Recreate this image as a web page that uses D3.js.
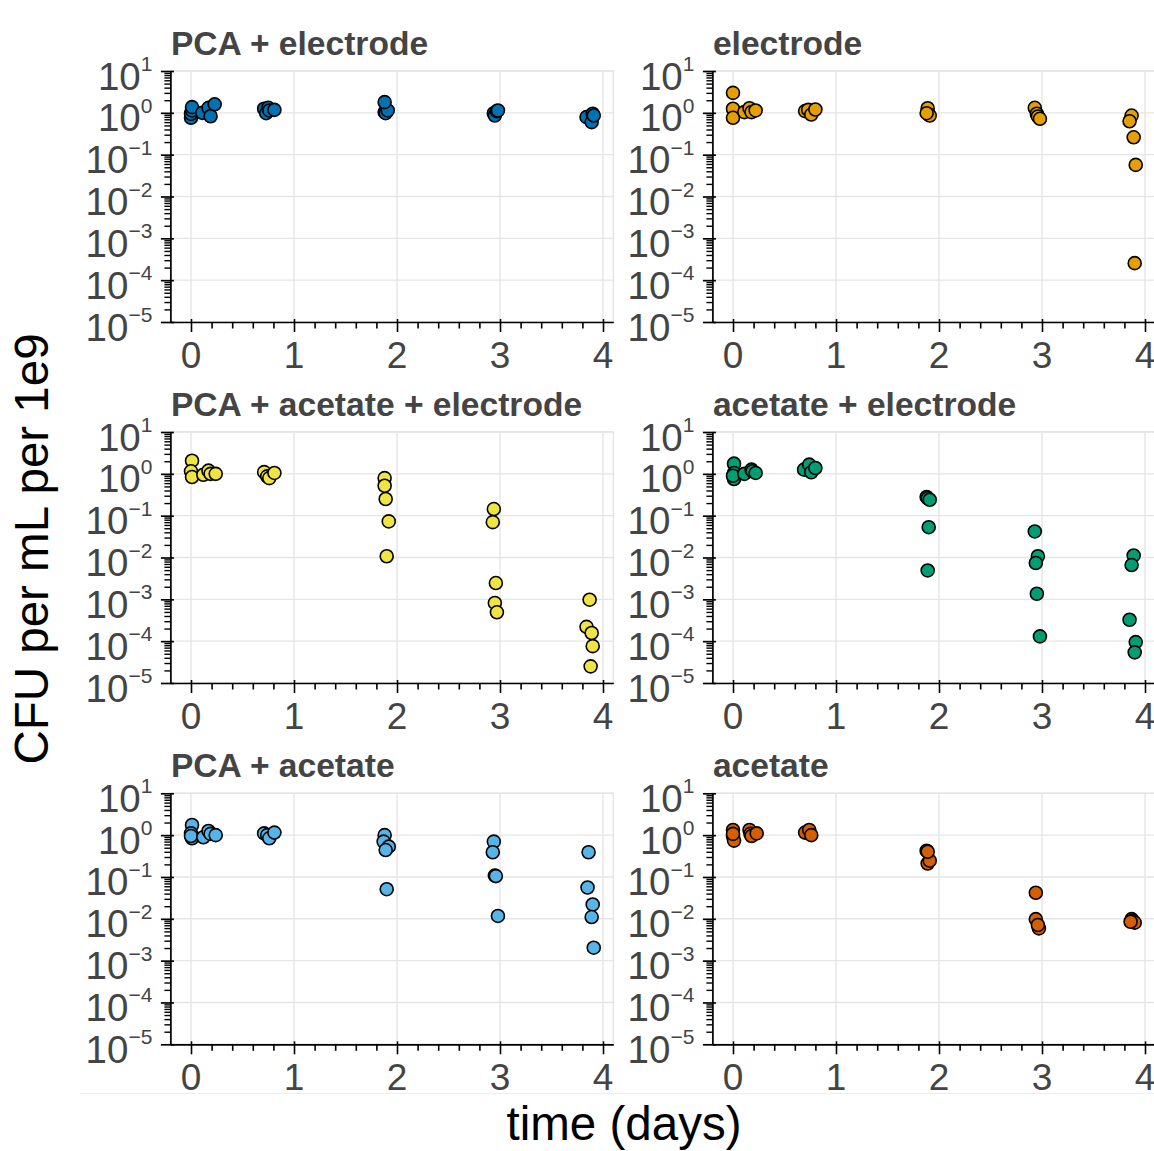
<!DOCTYPE html>
<html><head><meta charset="utf-8">
<script src="https://cdn.jsdelivr.net/npm/d3@7"></script>
<style>body{margin:0;background:#fff} svg{display:block}</style>
</head><body><svg id="c" width="1154" height="1151"></svg>
<script>
// ---------- DATA ----------
const panelTitles = ["PCA + electrode", "electrode", "PCA + acetate + electrode", "acetate + electrode", "PCA + acetate", "acetate"];
const panelColors = ["#0072B2", "#E69F00", "#F0E442", "#009E73", "#56B4E9", "#D55E00"];
const xTickValues = [0, 1, 2, 3, 4];
const yTickExponents = [-5, -4, -3, -2, -1, 0, 1];

const timePcaElectrode = [0, 0, 0.01, 0.01, 0.11, 0.17, 0.19, 0.23, 0.71, 0.73, 0.75, 0.76, 0.81, 1.88, 1.89, 1.91, 1.88, 2.94, 2.95, 2.97, 2.98, 3.84, 3.89, 3.90, 3.91];
const cfuPcaElectrode  = [0.76, 0.95, 1.14, 1.37, 1.0, 1.32, 0.83, 1.6, 1.25, 0.98, 1.32, 1.14, 1.18, 1.04, 0.98, 1.14, 1.8, 0.98, 0.86, 1.1, 1.14, 0.79, 0.6, 0.95, 0.86];

const timeElectrode = [0, 0, 0, 0.11, 0.16, 0.18, 0.22, 0.70, 0.73, 0.76, 0.80, 1.89, 1.90, 1.91, 1.88, 2.93, 2.95, 2.96, 2.98, 3.87, 3.85, 3.89, 3.91, 3.90];
const cfuElectrode  = [3.0, 1.25, 0.76, 1.04, 1.29, 1.04, 1.14, 1.1, 1.18, 0.91, 1.2, 1.29, 0.91, 0.86, 0.98, 1.32, 0.95, 0.82, 0.72, 0.86, 0.63, 0.26, 0.057, 2.55e-4];

const timePcaAcetateElectrode = [0.01, 0, 0.01, 0.12, 0.17, 0.19, 0.24, 0.71, 0.74, 0.76, 0.81, 1.88, 1.88, 1.89, 1.92, 1.90, 2.94, 2.93, 2.96, 2.95, 2.97, 3.87, 3.84, 3.89, 3.90, 3.88];
const cfuPcaAcetateElectrode  = [2.06, 1.15, 0.84, 0.95, 1.19, 1.0, 1.0, 1.1, 0.87, 0.79, 1.05, 0.79, 0.52, 0.25, 0.073, 0.0107, 0.144, 0.07, 0.00245, 8.2e-4, 4.9e-4, 9.8e-4, 2.2e-4, 1.57e-4, 7.6e-5, 2.5e-5];

const timeAcetateElectrode = [0.01, 0.01, 0.01, 0, 0.11, 0.18, 0.19, 0.22, 0.69, 0.74, 0.76, 0.80, 1.88, 1.89, 1.91, 1.90, 1.89, 2.93, 2.96, 2.94, 2.95, 2.98, 3.89, 3.87, 3.85, 3.91, 3.90];
const cfuAcetateElectrode  = [1.75, 1.05, 0.75, 0.9, 1.0, 1.26, 1.15, 1.05, 1.26, 1.66, 1.09, 1.38, 0.28, 0.26, 0.24, 0.053, 0.0049, 0.042, 0.0107, 0.0074, 0.00136, 1.3e-4, 0.0112, 0.0066, 3.25e-4, 9.5e-5, 5.4e-5];

const timePcaAcetate = [0.01, 0, 0.01, 0, 0.12, 0.17, 0.19, 0.24, 0.71, 0.74, 0.76, 0.81, 1.88, 1.87, 1.92, 1.89, 1.90, 2.94, 2.93, 2.95, 2.96, 2.98, 3.86, 3.85, 3.90, 3.89, 3.91];
const cfuPcaAcetate  = [1.75, 1.1, 0.84, 0.95, 0.89, 1.26, 1.07, 1.0, 1.1, 1.0, 0.84, 1.15, 1.0, 0.7, 0.53, 0.44, 0.051, 0.7, 0.39, 0.108, 0.105, 0.0117, 0.39, 0.056, 0.022, 0.011, 0.00204];

const timeAcetate = [0, 0, 0.01, 0, 0.16, 0.17, 0.18, 0.23, 0.70, 0.74, 0.76, 1.88, 1.89, 1.91, 1.89, 2.94, 2.94, 2.97, 2.96, 3.87, 3.88, 3.90, 3.86];
const cfuAcetate  = [1.33, 0.95, 0.74, 1.07, 1.33, 1.07, 0.95, 1.1, 1.15, 1.33, 1.0, 0.425, 0.21, 0.245, 0.4, 0.042, 0.0098, 0.0059, 0.0071, 0.0098, 0.009, 0.0081, 0.0085];

const panelTimes = [timePcaElectrode, timeElectrode, timePcaAcetateElectrode, timeAcetateElectrode, timePcaAcetate, timeAcetate];
const panelCFU = [cfuPcaElectrode, cfuElectrode, cfuPcaAcetateElectrode, cfuAcetateElectrode, cfuPcaAcetate, cfuAcetate];

const xAxisLabel = "time (days)";
const yAxisLabel = "CFU per mL per 1e9";

// ---------- LAYOUT ----------
const FONT = "'Liberation Sans', Arial, Helvetica, sans-serif";
const colX = [170.4, 712.4], rowY = [71, 432, 793.3];
const W = 442.9, H = 251;
const svg = d3.select('#c');
svg.append('rect').attr('width', 1154).attr('height', 1151).attr('fill', '#fff');
svg.append('line').attr('x1', 80).attr('x2', 1154).attr('y1', 1093.5).attr('y2', 1093.5)
  .attr('stroke', '#ededed').attr('stroke-width', 1);

const minorX = d3.range(-1, 21).map(k => k * 0.2).filter(v => Math.abs(v - Math.round(v)) > 1e-6 && v > -0.15 && v < 4.1);
const minorY = [];
for (let e = -5; e < 1; e++) for (let m = 2; m <= 9; m++) minorY.push(m * Math.pow(10, e));

panelTitles.forEach((title, i) => {
  const col = i % 2, row = Math.floor(i / 2);
  const g = svg.append('g').attr('transform', `translate(${colX[col]},${rowY[row]})`);
  const x = d3.scaleLinear().domain([-0.2, 4.1]).range([0, W]);
  const y = d3.scaleLog().domain([1e-5, 1e1]).range([H, 0]);

  // grid
  g.append('g').selectAll('line').data(xTickValues).join('line')
    .attr('x1', d => x(d)).attr('x2', d => x(d)).attr('y1', 0).attr('y2', H)
    .attr('stroke', '#e5e5e5').attr('stroke-width', 1.4);
  g.append('g').selectAll('line').data(yTickExponents).join('line')
    .attr('x1', 0).attr('x2', W).attr('y1', d => y(Math.pow(10, d))).attr('y2', d => y(Math.pow(10, d)))
    .attr('stroke', '#e5e5e5').attr('stroke-width', 1.4);
  g.append('rect').attr('width', W).attr('height', H).attr('fill', 'none')
    .attr('stroke', '#e5e5e5').attr('stroke-width', 1.4);

  // points
  const pts = panelTimes[i].map((t, k) => ({ t, v: panelCFU[i][k] }));
  g.append('g').selectAll('circle').data(pts).join('circle')
    .attr('cx', d => x(d.t)).attr('cy', d => y(d.v)).attr('r', 6.5)
    .attr('fill', panelColors[i]).attr('stroke', '#000').attr('stroke-width', 1.6);

  // x axis: minor ticks + domain
  const xa2 = g.append('g').attr('transform', `translate(0,${H})`);
  xa2.call(d3.axisBottom(x).tickValues(minorX).tickSize(6.5).tickSizeOuter(0).tickFormat(''));
  xa2.selectAll('.domain').attr('stroke', '#000').attr('stroke-width', 1.7);
  xa2.selectAll('.tick line').attr('stroke', '#000').attr('stroke-width', 1.6);
  // x axis: major ticks
  const xa = g.append('g').attr('transform', `translate(0,${H})`);
  xa.call(d3.axisBottom(x).tickValues(xTickValues).tickSize(10).tickSizeOuter(0).tickFormat(''));
  xa.selectAll('.domain').remove();
  xa.selectAll('.tick line').attr('stroke', '#000').attr('stroke-width', 1.6).attr('y1', -3);
  g.append('g').selectAll('text').data(xTickValues).join('text')
    .attr('x', d => x(d)).attr('y', H + 45.5).attr('text-anchor', 'middle')
    .attr('font-family', FONT).attr('font-size', 37).attr('fill', '#444').text(d => d);

  // y axis
  const ya = g.append('g');
  ya.call(d3.axisLeft(y).tickValues(minorY).tickSize(6).tickSizeOuter(0).tickFormat(''));
  ya.selectAll('.domain').attr('stroke', '#000').attr('stroke-width', 1.7);
  ya.selectAll('.tick line').attr('stroke', '#000').attr('stroke-width', 1.4);
  const yb = g.append('g');
  yb.call(d3.axisLeft(y).tickValues(yTickExponents.map(e => Math.pow(10, e))).tickSize(9.5).tickSizeOuter(0).tickFormat(''));
  yb.selectAll('.domain').remove();
  yb.selectAll('.tick line').attr('stroke', '#000').attr('stroke-width', 1.7).attr('x1', 3.5);
  const yl = g.append('g').selectAll('text').data(yTickExponents).join('text')
    .attr('x', -18).attr('y', d => y(Math.pow(10, d)) + 18.5).attr('text-anchor', 'end')
    .attr('font-family', FONT).attr('fill', '#444');
  yl.append('tspan').attr('font-size', 38.5).text('10');
  yl.append('tspan').attr('font-size', 21).attr('dy', -18.5).text(d => d < 0 ? '\u2212' + Math.abs(d) : String(d));

  // title
  g.append('text').attr('x', 0.5).attr('y', -16).attr('font-family', FONT).attr('font-weight', 'bold')
    .attr('font-size', 33.6).attr('fill', '#444').text(title);
});

// axis labels
svg.append('text').attr('transform', 'translate(48,549) rotate(-90)').attr('text-anchor', 'middle')
  .attr('font-family', FONT).attr('font-size', 47.5).attr('fill', '#000').text(yAxisLabel);
svg.append('text').attr('x', 624).attr('y', 1140).attr('text-anchor', 'middle')
  .attr('font-family', FONT).attr('font-size', 47.5).attr('fill', '#000').text(xAxisLabel);
</script></body></html>
